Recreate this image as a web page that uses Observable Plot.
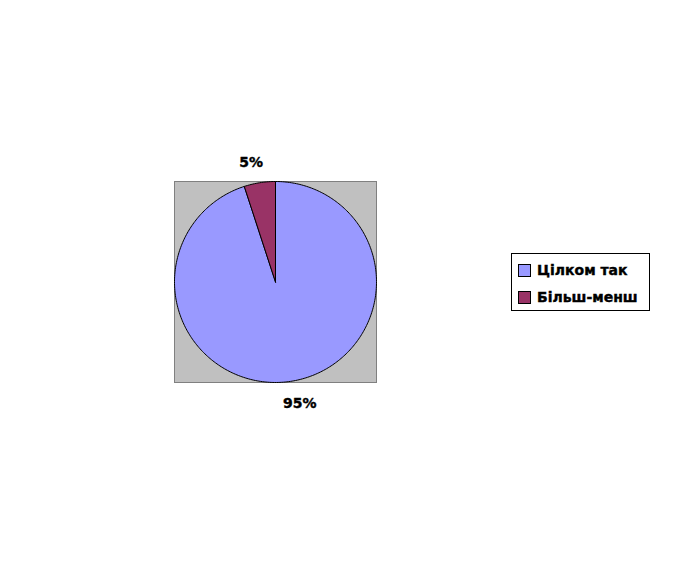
<!DOCTYPE html>
<html>
<head>
<meta charset="utf-8">
<script src="https://cdn.jsdelivr.net/npm/d3@7"></script>
<script src="https://cdn.jsdelivr.net/npm/@observablehq/plot@0.6"></script>
<style>
  html, body { margin: 0; padding: 0; background: #fff; }
  #wrap { position: relative; width: 696px; height: 564px; font-family: "DejaVu Sans", sans-serif; }
  #legend { position: absolute; left: 511px; top: 253px; width: 137px; height: 56px; border: 1px solid #000; background: #fff; box-sizing: content-box; }
  .item { position: absolute; left: 6px; display: flex; align-items: center; font-weight: bold; font-size: 14px; color: #000; white-space: nowrap; -webkit-text-stroke: 0.4px #000; }
  .sw { width: 11px; height: 11px; border: 1px solid #000; margin-right: 6px; }
</style>
</head>
<body>
<div id="wrap"></div>
<script>
const categories = ["Цілком так", "Більш-менш"];
const values = [95, 5];
const colors = ["#9999FF", "#993366"];
const labels = ["95%", "5%"];

const arcs = d3.pie().sort(null).value(d => d)(values);

// polygon points for each slice (geometry from pie angles)
function slicePoints(a, i) {
  const pts = [{x: 0, y: 0, i}];
  const n = Math.max(2, Math.ceil((a.endAngle - a.startAngle) / (Math.PI / 180)));
  for (let k = 0; k <= n; k++) {
    const t = a.startAngle + (a.endAngle - a.startAngle) * k / n;
    pts.push({x: Math.sin(t), y: Math.cos(t), i});
  }
  pts.push({x: 0, y: 0, i});
  return pts;
}

const labelR = 1.22;

const marks = [Plot.frame({fill: "#C0C0C0", stroke: "#808080"})];
arcs.forEach((a, i) => {
  marks.push(Plot.line(slicePoints(a, i), {x: "x", y: "y", fill: colors[i], stroke: "#000", strokeWidth: 1, curve: "linear"}));
});
arcs.forEach((a, i) => {
  const m = (a.startAngle + a.endAngle) / 2;
  const d = {x: Math.sin(m) * labelR, y: Math.cos(m) * labelR, text: labels[i]};
  marks.push(Plot.text([d], {
    x: "x", y: "y", text: "text",
    dx: Math.sign(d.x) * 5, dy: d.y > 0 ? 2 : 0,
    fontSize: 14, fontWeight: "bold", fill: "#000", stroke: "#000", strokeWidth: 0.4
  }));
});

const chart = Plot.plot({
  width: 696,
  height: 564,
  marginLeft: 174,
  marginRight: 696 - 376,
  marginTop: 181,
  marginBottom: 564 - 382,
  x: {domain: [-1, 1], axis: null},
  y: {domain: [-1, 1], axis: null},
  style: {fontFamily: "DejaVu Sans, sans-serif", background: "#fff", overflow: "visible"},
  marks
});

const wrap = document.getElementById("wrap");
wrap.appendChild(chart);

const legend = document.createElement("div");
legend.id = "legend";
categories.forEach((c, i) => {
  const it = document.createElement("div");
  it.className = "item";
  it.style.top = (i === 0 ? 8 : 35) + "px";
  const sw = document.createElement("span");
  sw.className = "sw";
  sw.style.background = colors[i];
  const tx = document.createElement("span");
  tx.textContent = c;
  it.appendChild(sw);
  it.appendChild(tx);
  legend.appendChild(it);
});
wrap.appendChild(legend);
</script>
</body>
</html>
